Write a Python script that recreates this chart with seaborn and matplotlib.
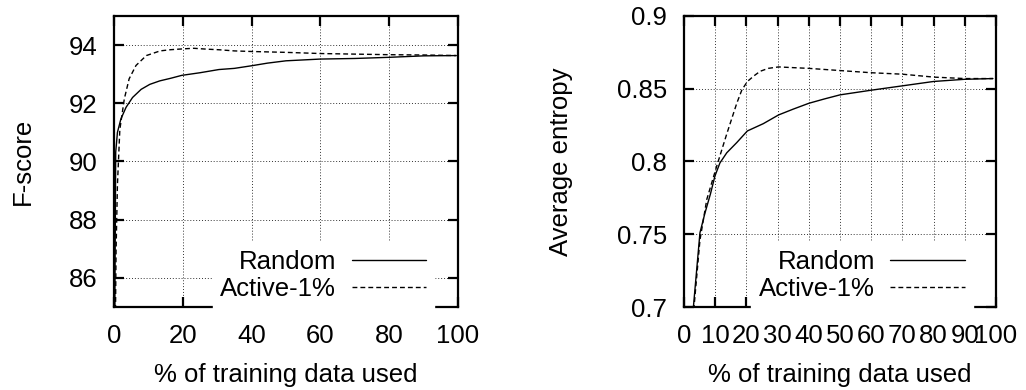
import numpy as np
import pandas as pd
import matplotlib
matplotlib.use("Agg")
import matplotlib.pyplot as plt
from matplotlib.ticker import FuncFormatter
import seaborn as sns

# F-score learning curves
f_pct = [0.2, 0.5, 1.0, 2.0, 3.5, 5.4, 7.9, 10.4, 13.3, 16.5, 19.7, 25, 30.5, 35,
         40, 44.6, 50, 60, 70, 80, 90, 99.5]
f_random = [84.0, 90.32, 91.0, 91.46, 91.86, 92.2, 92.48, 92.65, 92.77, 92.86, 92.96,
            93.05, 93.16, 93.2, 93.29, 93.38, 93.46, 93.52, 93.54, 93.58, 93.63, 93.64]
fa_pct = [0.3, 0.6, 1.0, 1.7, 3.0, 4.4, 6.4, 9.4, 13.4, 16.3, 20, 23.2, 27, 30.5, 35,
          40, 50, 60, 70, 80, 90, 99.5]
f_active = [83.0, 86.9, 89.2, 91.1, 92.15, 92.84, 93.3, 93.64, 93.8, 93.84, 93.87,
            93.89, 93.86, 93.84, 93.8, 93.78, 93.75, 93.71, 93.69, 93.67, 93.66, 93.64]

# Average entropy learning curves
e_pct = [2.0, 3.0, 5.1, 6.7, 8.5, 9.9, 11.5, 13.7, 16.9, 20.3, 25.4, 30.3, 35, 40,
         45, 50, 60, 70, 80, 90, 99]
e_random = [0.66, 0.70, 0.751, 0.7645, 0.778, 0.790, 0.799, 0.806, 0.813, 0.821, 0.826,
            0.832, 0.836, 0.840, 0.843, 0.8458, 0.849, 0.852, 0.855, 0.8565, 0.857]
ea_pct = [2.2, 3.2, 5.1, 7.3, 10.5, 13.7, 16.9, 18.5, 20.3, 22.5, 24.4, 27, 30.3, 35,
          40, 50, 60, 70, 80, 90, 99]
e_active = [0.66, 0.70, 0.746, 0.774, 0.797, 0.819, 0.840, 0.849, 0.855, 0.859, 0.862,
            0.864, 0.865, 0.8645, 0.864, 0.8625, 0.861, 0.860, 0.858, 0.857, 0.857]

series_names = ["Random", "Active-1%"]

sns.set_style("ticks")
plt.rcParams["font.family"] = ["Liberation Sans", "DejaVu Sans"]
plt.rcParams["text.color"] = "black"
plt.rcParams["axes.labelcolor"] = "black"
FS = 18.5

fig = plt.figure(figsize=(10.26, 3.9), dpi=100)
ax1 = fig.add_axes([0.1111, 0.2128, 0.3353, 0.7462])
ax2 = fig.add_axes([0.6667, 0.2128, 0.3041, 0.7462])


def make_frame(xs_r, ys_r, xs_a, ys_a):
    return pd.concat([
        pd.DataFrame({"pct": xs_r, "val": ys_r, "method": series_names[0]}),
        pd.DataFrame({"pct": xs_a, "val": ys_a, "method": series_names[1]}),
    ], ignore_index=True)


def draw(ax, df, ylim, yticks, xticks, ylabel, ylabelpad, leg_x):
    sns.lineplot(data=df, x="pct", y="val", hue="method", style="method",
                 palette={series_names[0]: "black", series_names[1]: "black"},
                 dashes={series_names[0]: "", series_names[1]: (3.5, 2.2)},
                 linewidth=1.0, ax=ax, sort=False, estimator=None)
    ax.set_xlim(0, 100)
    ax.set_ylim(*ylim)
    ax.set_xticks(xticks)
    ax.set_yticks(yticks)
    ax.yaxis.set_major_formatter(FuncFormatter(lambda v, p: f"{v:g}"))
    ax.grid(True, color="black", linestyle=(0, (1, 2)), linewidth=0.7, alpha=0.8)
    ax.set_axisbelow(True)
    for s in ax.spines.values():
        s.set_visible(True)
        s.set_linewidth(1.6)
        s.set_color("black")
    ax.tick_params(direction="in", length=7, width=1.6, top=True, right=True,
                   labelsize=FS, pad=12, colors="black")
    ax.set_xlabel("% of training data used", fontsize=FS, labelpad=11)
    ax.set_ylabel(ylabel, fontsize=FS, labelpad=ylabelpad)
    leg = ax.legend(loc="lower right", bbox_to_anchor=(leg_x, -0.005), frameon=True,
                    fontsize=FS, markerfirst=False, handlelength=2.9,
                    handletextpad=0.6, labelspacing=0.12, borderpad=0.3,
                    borderaxespad=0.0, fancybox=False)
    leg.get_frame().set_facecolor("white")
    leg.get_frame().set_edgecolor("white")
    leg.get_frame().set_alpha(1.0)
    leg.set_title(None)
    for t in leg.get_texts():
        t.set_color("black")


draw(ax1, make_frame(f_pct, f_random, fa_pct, f_active), (85, 95),
     [86, 88, 90, 92, 94], [0, 20, 40, 60, 80, 100], "F-score", 24, 0.93)
draw(ax2, make_frame(e_pct, e_random, ea_pct, e_active), (0.7, 0.9),
     [0.7, 0.75, 0.8, 0.85, 0.9], list(range(0, 101, 10)), "Average entropy", 32, 0.925)

fig.savefig("out.png", dpi=100)
